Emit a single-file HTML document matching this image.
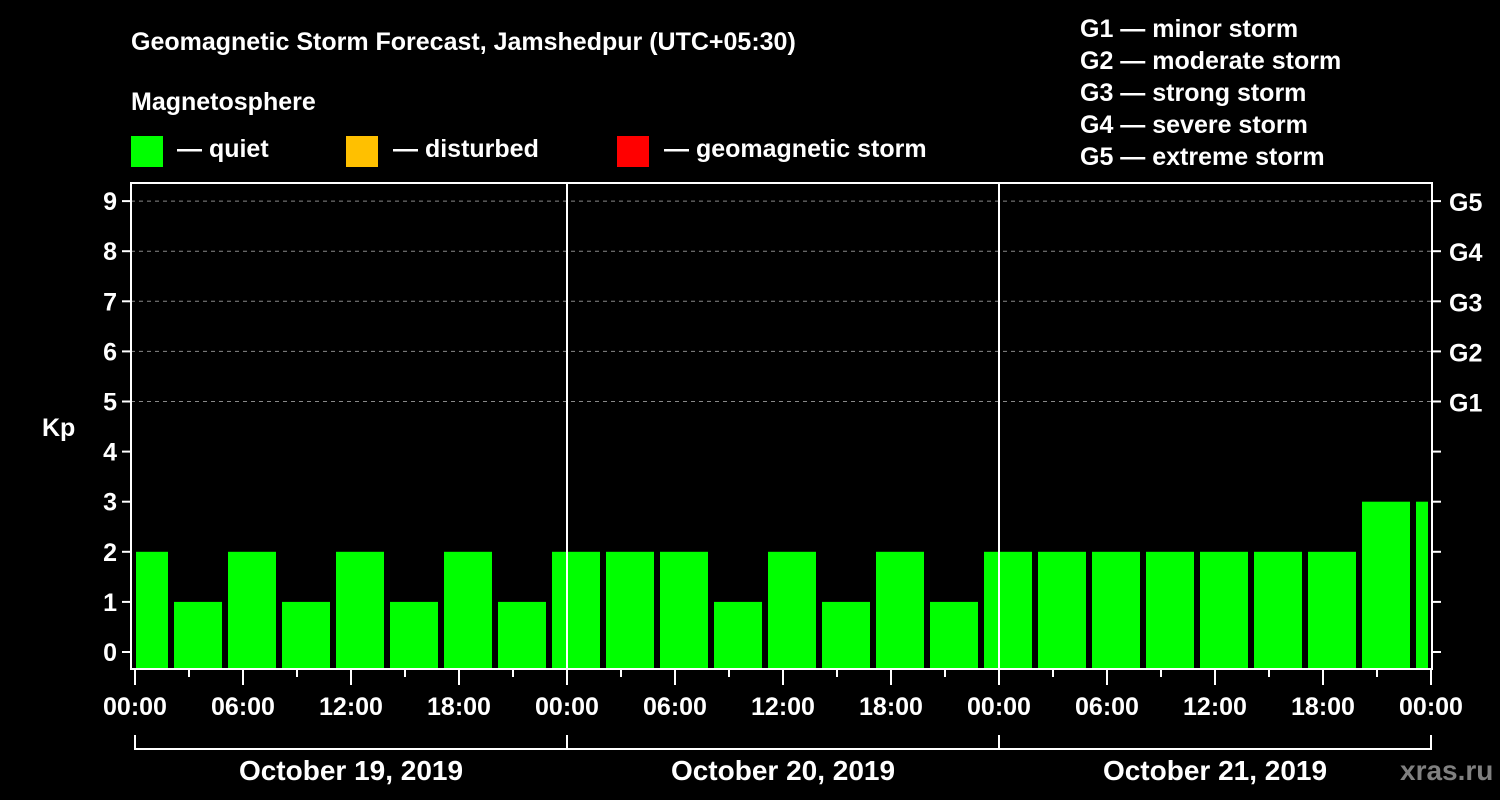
<!DOCTYPE html>
<html><head><meta charset="utf-8"><style>
html,body{margin:0;padding:0;background:#000;}
svg{display:block;font-family:"Liberation Sans",Arial,sans-serif;font-weight:bold;}
</style></head><body>
<svg id="chart" width="1500" height="800" viewBox="0 0 1500 800">
<rect width="1500" height="800" fill="#000"/>
<text x="131" y="50" fill="#fff" font-size="25">Geomagnetic Storm Forecast, Jamshedpur (UTC+05:30)</text>
<text x="131" y="110" fill="#fff" font-size="25">Magnetosphere</text>
<g><rect x="131" y="136" width="32" height="31" fill="#00ff00"/><text x="177" y="157" fill="#fff" font-size="25">— quiet</text></g>
<g><rect x="346" y="136" width="32" height="31" fill="#ffc000"/><text x="393" y="157" fill="#fff" font-size="25">— disturbed</text></g>
<g><rect x="617" y="136" width="32" height="31" fill="#ff0000"/><text x="664" y="157" fill="#fff" font-size="25">— geomagnetic storm</text></g>
<g fill="#fff" font-size="25">
<text x="1080" y="37">G1 — minor storm</text>
<text x="1080" y="69">G2 — moderate storm</text>
<text x="1080" y="101">G3 — strong storm</text>
<text x="1080" y="133">G4 — severe storm</text>
<text x="1080" y="165">G5 — extreme storm</text>
</g>
<text x="42" y="436" fill="#fff" font-size="25">Kp</text>
<text x="1400" y="780" fill="#808080" font-size="28">xras.ru</text>
<g id="grid"></g>
<g id="bars"></g>
<g id="axes"></g>
</svg>
<script>
const kpValues=[2,1,2,1,2,1,2,1,2,2,2,1,2,1,2,1,2,2,2,2,2,2,2,3,3];
const yTicks=[0,1,2,3,4,5,6,7,8,9];
const gLabels=["G1","G2","G3","G4","G5"];
const gLevels=[5,6,7,8,9];
const hourLabels=["00:00","06:00","12:00","18:00"];
const dayLabels=["October 19, 2019","October 20, 2019","October 21, 2019"];
const NS="http://www.w3.org/2000/svg";
const X0=135,PXH=18,Y0=652,PXK=50.1,LEFT=131,RIGHT=1432,TOP=183,BOTTOM=669;
function xOf(h){return X0+h*PXH;}
function yOf(k){return Y0-k*PXK;}
function mk(tag,attrs,parent){const e=document.createElementNS(NS,tag);for(const k in attrs)e.setAttribute(k,attrs[k]);parent.appendChild(e);return e;}
const grid=document.getElementById('grid'),bars=document.getElementById('bars'),axes=document.getElementById('axes');
yTicks.forEach(v=>{
 if(v>=5){const l=mk('line',{x1:LEFT,x2:RIGHT,y1:yOf(v),y2:yOf(v),stroke:'#888','stroke-width':1,'stroke-dasharray':'4,4'},grid);
 
 }
 const t=mk('line',{x1:LEFT-9,x2:LEFT,y1:yOf(v),y2:yOf(v),stroke:'#fff','stroke-width':2},axes);
 
 
 const t2=mk('line',{x1:RIGHT,x2:RIGHT+9,y1:yOf(v),y2:yOf(v),stroke:'#fff','stroke-width':2},axes);
 
 
 const tx=mk('text',{x:LEFT-14,y:yOf(v)+9,fill:'#fff','font-size':25,'text-anchor':'end'},axes);tx.textContent=v;
 
 
});
gLabels.forEach((g,i)=>{const tx=mk('text',{x:RIGHT+17,y:yOf(gLevels[i])+10,fill:'#fff','font-size':25},axes);tx.textContent=g;
 
 });
kpValues.forEach((v,i)=>{
 let x1=xOf(3*i-1)+3,x2=xOf(3*i+2)-3;
 x1=Math.max(x1,X0+1);x2=Math.min(x2,RIGHT-4);
 const r=mk('rect',{x:x1,y:yOf(v),width:x2-x1,height:BOTTOM-yOf(v),fill:v>=5?'#ff0000':(v>=4?'#ffc000':'#00ff00')},bars);
 
 
});
// frame
const fr=mk('rect',{x:LEFT,y:TOP,width:RIGHT-LEFT,height:BOTTOM-TOP,fill:'none',stroke:'#fff','stroke-width':2},axes);


for(let d=1;d<3;d++){const l=mk('line',{x1:xOf(24*d),x2:xOf(24*d),y1:TOP,y2:BOTTOM,stroke:'#fff','stroke-width':2},axes);
 
 }
for(let h=0;h<=72;h+=3){
 const major=h%6===0;
 const t=mk('line',{x1:xOf(h),x2:xOf(h),y1:BOTTOM,y2:major?685:677,stroke:'#fff','stroke-width':2},axes);
 
 
 if(major){const tx=mk('text',{x:xOf(h),y:715,fill:'#fff','font-size':25,'text-anchor':'middle'},axes);
 tx.textContent=hourLabels[(h/6)%4];
 
 }
}
dayLabels.forEach((d,i)=>{
 const a=xOf(24*i),b=xOf(24*(i+1));
 const p=mk('path',{d:`M${a},735 V749 H${b} V735`,fill:'none',stroke:'#fff','stroke-width':2},axes);
 
 
 const tx=mk('text',{x:(a+b)/2,y:780,fill:'#fff','font-size':28,'text-anchor':'middle'},axes);tx.textContent=d;
 
 
});
</script>
</body></html>
